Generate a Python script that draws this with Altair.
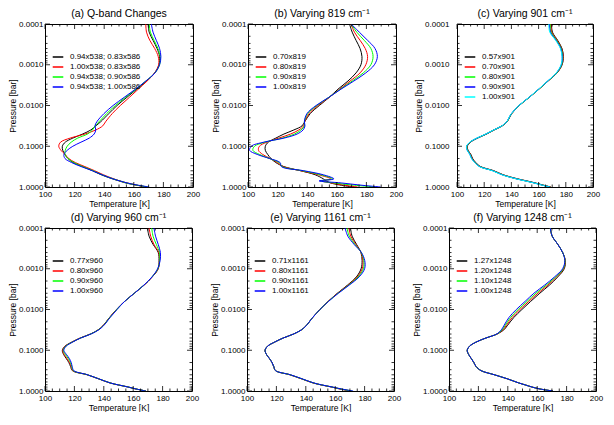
import altair as alt
import pandas as pd

# log10(pressure [bar]) levels at which temperatures were read
LOGP = [-4.0, -3.8, -3.6, -3.4, -3.2, -3.0, -2.8, -2.6, -2.4, -2.2, -2.0,
        -1.8, -1.6, -1.5, -1.4, -1.3, -1.2, -1.1, -1.0,
        -0.9, -0.8, -0.7, -0.6, -0.5, -0.4, -0.3, -0.2,
        -0.15, -0.1, -0.05, 0.0]

# (a) Q-band changes
A_LABELS = ["0.94x538; 0.83x586", "1.00x538; 0.83x586", "0.94x538; 0.90x586", "0.94x538; 1.00x586"]
A_BLACK = [169.7, 170.4, 173.0, 175.7, 177.4, 177.0, 174.1, 168.6, 162.0, 155.3, 148.7, 143.1, 137.6, 134.3, 131.0, 125.4, 118.8, 113.7, 111.7, 112.0, 113.5, 115.5, 119.0, 125.5, 132.0, 138.0, 145.5, 150.0, 154.5, 161.0, 168.6]
A_RED = [168.1, 168.6, 170.8, 174.1, 176.5, 176.8, 174.1, 169.0, 163.0, 157.0, 150.9, 145.4, 140.9, 139.0, 134.3, 127.0, 117.0, 110.5, 109.3, 110.8, 113.5, 116.0, 120.5, 127.0, 133.5, 139.5, 146.5, 150.5, 155.5, 161.5, 168.6]
A_GREEN = [170.4, 171.2, 173.7, 176.3, 177.9, 177.4, 174.3, 168.1, 161.5, 154.4, 147.6, 141.6, 136.5, 133.8, 132.1, 128.8, 122.1, 117.7, 115.0, 113.7, 113.5, 115.5, 119.5, 125.5, 132.5, 138.5, 146.0, 150.5, 155.0, 161.5, 169.7]
A_BLUE = [171.9, 173.0, 175.2, 177.4, 178.3, 177.4, 174.3, 168.1, 161.1, 153.5, 146.0, 139.8, 135.0, 133.8, 134.3, 133.2, 129.9, 124.3, 118.8, 115.0, 112.8, 113.5, 118.0, 124.5, 132.0, 138.5, 146.0, 150.5, 155.5, 162.0, 170.4]

# (b) Varying 819 cm-1
B_LABELS = ["0.70x819", "0.80x819", "0.90x819", "1.00x819"]
B_BLACK = [168.6, 170.4, 173.0, 175.7, 177.0, 176.3, 173.0, 167.5, 160.8, 154.9, 148.2, 142.0, 138.3, 136.5, 131.0, 124.3, 118.8, 113.7, 111.7, 111.7, 113.3, 115.5, 118.8, 124.3, 135.4, 145.4, 150.9, 152.7, 155.8, 161.9, 170.8]
B_RED = [169.7, 171.9, 175.7, 179.2, 180.8, 179.6, 175.7, 169.0, 161.9, 154.9, 147.3, 141.2, 138.3, 137.6, 134.3, 128.8, 120.8, 112.8, 107.7, 107.1, 109.9, 115.0, 119.9, 123.9, 135.4, 147.6, 155.8, 150.0, 156.0, 164.0, 174.1]
B_GREEN = [169.7, 173.5, 178.5, 183.0, 184.5, 183.0, 177.9, 170.4, 162.4, 154.6, 146.5, 140.3, 138.1, 138.1, 135.8, 131.4, 123.2, 111.5, 104.4, 103.3, 107.7, 114.4, 121.0, 123.2, 136.5, 149.1, 157.1, 149.0, 158.0, 170.0, 186.3]
B_BLUE = [169.7, 175.2, 180.8, 185.8, 187.4, 185.4, 179.6, 171.5, 162.8, 154.6, 146.0, 139.8, 138.1, 138.5, 137.2, 133.2, 124.3, 110.6, 102.2, 101.1, 106.2, 114.4, 121.7, 122.6, 137.6, 150.9, 158.0, 148.0, 163.0, 175.0, 189.6]

# (c) Varying 901 cm-1
C_LABELS = ["0.57x901", "0.70x901", "0.80x901", "0.90x901", "1.00x901"]
C_BLACK = [169.5, 170.2, 174.0, 177.2, 178.2, 177.3, 173.6, 167.0, 160.3, 153.2, 145.8, 140.3, 136.8, 133.3, 127.4, 121.8, 115.2, 110.0, 107.6, 108.2, 110.2, 111.5, 113.8, 117.4, 127.0, 134.0, 144.6, 151.2, 157.6, 163.0, 169.0]
C_RED = [169.0, 169.7, 173.6, 176.9, 178.0, 177.1, 173.5, 166.9, 160.2, 153.1, 145.7, 140.2, 136.7, 133.2, 127.2, 121.5, 114.9, 109.7, 107.3, 107.9, 109.9, 111.2, 113.5, 117.1, 126.7, 133.7, 144.2, 150.8, 157.2, 162.6, 168.8]
C_GREEN = [168.5, 169.2, 173.2, 176.6, 177.7, 176.9, 173.3, 166.8, 160.1, 153.1, 145.6, 140.1, 136.6, 133.1, 127.1, 121.4, 114.8, 109.6, 107.2, 107.8, 109.7, 111.0, 113.3, 116.9, 126.4, 133.4, 143.9, 150.5, 156.9, 162.4, 168.6]
C_BLUE = [168.0, 168.7, 172.8, 176.3, 177.4, 176.7, 173.1, 166.7, 160.0, 153.0, 145.5, 140.0, 136.5, 133.0, 127.0, 121.3, 114.7, 109.5, 107.1, 107.6, 109.5, 110.8, 113.1, 116.7, 126.2, 133.2, 143.7, 150.2, 156.7, 162.2, 168.4]
C_CYAN = [167.5, 168.2, 172.5, 176.0, 177.2, 176.5, 173.0, 166.6, 160.0, 153.0, 145.5, 140.0, 136.5, 133.0, 127.0, 121.2, 114.6, 109.4, 107.0, 107.5, 109.4, 110.6, 113.0, 116.5, 126.0, 133.0, 143.5, 150.0, 156.5, 162.0, 168.2]

# (d) Varying 960 cm-1
D_LABELS = ["0.77x960", "0.80x960", "0.90x960", "1.00x960"]
D_BLACK = [169.7, 170.8, 173.5, 177.0, 177.6, 177.0, 173.0, 167.5, 160.8, 154.2, 148.6, 143.8, 139.4, 136.1, 131.0, 123.9, 118.2, 113.6, 111.8, 112.6, 114.4, 116.2, 117.4, 118.6, 128.5, 136.3, 144.0, 149.6, 156.2, 161.8, 168.6]
D_RED = [170.8, 171.9, 174.1, 177.4, 177.8, 177.0, 172.9, 167.4, 160.8, 154.2, 148.7, 143.9, 139.5, 136.2, 131.1, 124.0, 118.4, 113.8, 112.1, 113.0, 114.9, 116.7, 117.8, 118.9, 128.6, 136.4, 144.1, 149.7, 156.3, 161.8, 168.6]
D_GREEN = [172.6, 173.5, 175.7, 177.9, 178.0, 176.8, 172.8, 167.3, 160.8, 154.2, 148.8, 144.0, 139.6, 136.3, 131.2, 124.2, 118.6, 114.1, 112.5, 113.8, 115.8, 117.3, 118.2, 119.2, 128.7, 136.5, 144.2, 149.8, 156.4, 161.9, 168.6]
D_BLUE = [174.1, 175.2, 177.0, 178.5, 178.3, 176.6, 172.8, 167.3, 160.8, 154.2, 149.0, 144.2, 139.8, 136.5, 131.4, 124.3, 118.8, 114.4, 112.8, 114.5, 116.5, 117.8, 118.5, 119.6, 128.8, 136.5, 144.2, 149.8, 156.4, 161.9, 168.6]

# (e) Varying 1161 cm-1
E_LABELS = ["0.71x1161", "0.80x1161", "0.90x1161", "1.00x1161"]
E_BLACK = [170.4, 171.5, 174.5, 177.5, 178.3, 177.6, 174.4, 168.4, 161.5, 155.2, 149.6, 144.6, 140.2, 137.0, 131.8, 124.6, 118.8, 114.0, 112.3, 113.2, 115.2, 117.0, 118.2, 119.4, 129.0, 137.0, 144.8, 150.4, 157.2, 163.0, 170.4]
E_RED = [169.3, 170.6, 174.0, 177.6, 178.9, 178.4, 175.0, 168.8, 161.7, 155.3, 149.6, 144.6, 140.2, 137.0, 131.8, 124.6, 118.8, 114.0, 112.3, 113.2, 115.2, 117.0, 118.2, 119.4, 129.0, 137.0, 144.8, 150.4, 157.4, 163.4, 171.0]
E_GREEN = [168.0, 169.6, 173.4, 177.7, 179.5, 179.2, 175.6, 169.2, 162.0, 155.4, 149.6, 144.6, 140.2, 137.0, 131.8, 124.6, 118.8, 114.0, 112.3, 113.2, 115.2, 117.0, 118.2, 119.4, 129.2, 137.2, 145.0, 150.6, 157.6, 163.8, 171.6]
E_BLUE = [166.7, 168.6, 172.8, 177.8, 180.1, 180.0, 176.3, 169.6, 162.2, 155.5, 149.6, 144.6, 140.2, 137.0, 131.8, 124.6, 118.8, 114.0, 112.3, 113.2, 115.2, 117.0, 118.2, 119.4, 129.4, 137.4, 145.2, 150.8, 157.8, 164.2, 172.2]

# (f) Varying 1248 cm-1
F_LABELS = ["1.27x1248", "1.20x1248", "1.10x1248", "1.00x1248"]
F_BLACK = [168.9, 170.2, 174.0, 177.3, 179.1, 178.4, 174.0, 168.4, 161.8, 155.6, 149.6, 144.0, 139.6, 137.3, 132.9, 125.1, 118.4, 114.0, 112.4, 113.3, 115.1, 116.9, 118.4, 121.8, 130.7, 139.6, 147.3, 151.8, 156.2, 161.8, 170.7]
F_RED = [168.9, 170.2, 174.0, 177.3, 179.0, 178.0, 173.2, 167.3, 160.5, 154.3, 148.3, 142.9, 138.8, 136.7, 132.8, 125.1, 118.4, 114.0, 112.4, 113.3, 115.1, 116.9, 118.4, 121.8, 130.7, 139.6, 147.3, 151.8, 156.2, 161.8, 170.7]
F_GREEN = [168.9, 170.2, 174.0, 177.3, 178.9, 177.7, 172.6, 166.2, 159.2, 153.1, 147.1, 141.8, 138.0, 136.2, 132.7, 125.1, 118.4, 114.0, 112.4, 113.3, 115.1, 116.9, 118.4, 121.8, 130.7, 139.6, 147.3, 151.8, 156.2, 161.8, 170.7]
F_BLUE = [168.9, 170.2, 174.0, 177.3, 178.8, 177.3, 171.8, 165.1, 157.8, 151.8, 145.8, 140.7, 137.3, 135.6, 132.6, 125.1, 118.4, 114.0, 112.4, 113.3, 115.1, 116.9, 118.4, 121.8, 130.7, 139.6, 147.3, 151.8, 156.2, 161.8, 170.7]

COLORS4 = ["#000000", "#ff0000", "#00ff00", "#0000ff"]
COLORS5 = ["#000000", "#ff0000", "#00ff00", "#0000ff", "#00ffff"]

MAJ_X = [100, 120, 140, 160, 180, 200]
MIN_X = [105, 110, 115, 125, 130, 135, 145, 150, 155, 165, 170, 175, 185, 190, 195]
MAJ_Y = [0.0001, 0.001, 0.01, 0.1, 1.0]
MIN_Y = [m * d for d in (0.0001, 0.001, 0.01, 0.1) for m in range(2, 10)]

FONT = "Liberation Sans"
H = 163


def panel(title, labels, colors, series, W, label_pad=2):
    rows = []
    for lab, ser in zip(labels, series):
        for i, (lp, t) in enumerate(zip(LOGP, ser)):
            rows.append({"label": lab, "P": 10 ** lp, "T": t, "i": i})
    df = pd.DataFrame(rows)
    xs = alt.Scale(domain=[100, 200], nice=False, zero=False)
    ys = alt.Scale(type="log", domain=[0.0001, 1.0], reverse=True, nice=False)
    xaxis = alt.Axis(values=MAJ_X, format="d", ticks=False, domain=False, grid=False,
                     labelPadding=3, title="Temperature [K]", titlePadding=1,
                     labelFontSize=8, titleFontSize=8.5, labelFlush=False)
    yaxis = alt.Axis(values=MAJ_Y, format=".4f", ticks=False, domain=False, grid=False,
                     labelPadding=label_pad, title="Pressure [bar]", titlePadding=1,
                     labelFontSize=8, titleFontSize=8.5, labelFlush=False)
    lines = alt.Chart(df).mark_line(strokeWidth=1, interpolate="catmull-rom", clip=True).encode(
        x=alt.X("T:Q", scale=xs, axis=xaxis),
        y=alt.Y("P:Q", scale=ys, axis=yaxis),
        color=alt.Color("label:N", scale=alt.Scale(domain=labels, range=colors),
                        legend=alt.Legend(title=None, orient="none", legendX=9, legendY=29,
                                          symbolType="M-2,0H2", symbolSize=28,
                                          symbolStrokeWidth=1.5, labelFontSize=8,
                                          labelFont=FONT, labelOffset=8, rowPadding=2,
                                          padding=0, labelColor="black")),
        order="i:Q",
    )
    layers = [lines]
    for vals, ln in ((MAJ_X, 5), (MIN_X, 2.5)):
        d = pd.DataFrame({"T": vals})
        base = alt.Chart(d).mark_rule(color="black", strokeWidth=0.8)
        layers.append(base.encode(x=alt.X("T:Q", scale=xs, axis=xaxis), y=alt.value(H), y2=alt.value(H - ln)))
        layers.append(base.encode(x=alt.X("T:Q", scale=xs, axis=xaxis), y=alt.value(0), y2=alt.value(ln)))
    for vals, ln in ((MAJ_Y, 5), (MIN_Y, 2.5)):
        d = pd.DataFrame({"P": vals})
        base = alt.Chart(d).mark_rule(color="black", strokeWidth=0.8)
        layers.append(base.encode(y=alt.Y("P:Q", scale=ys, axis=yaxis), x=alt.value(0), x2=alt.value(ln)))
        layers.append(base.encode(y=alt.Y("P:Q", scale=ys, axis=yaxis), x=alt.value(W), x2=alt.value(W - ln)))
    return alt.layer(*layers).properties(
        width=W, height=H,
        title=alt.TitleParams(title, fontSize=10.5, font=FONT, fontWeight="normal",
                              offset=1, anchor="middle", color="black"),
    )


pa = panel("(a) Q-band Changes", A_LABELS, COLORS4, [A_BLACK, A_RED, A_GREEN, A_BLUE], 148)
pb = panel("(b) Varying 819 cm\u207b\u00b9", B_LABELS, COLORS4, [B_BLACK, B_RED, B_GREEN, B_BLUE], 148)
pc = panel("(c) Varying 901 cm\u207b\u00b9", C_LABELS, COLORS5, [C_BLACK, C_RED, C_GREEN, C_BLUE, C_CYAN], 136, label_pad=8)
pd_ = panel("(d) Varying 960 cm\u207b\u00b9", D_LABELS, COLORS4, [D_BLACK, D_RED, D_GREEN, D_BLUE], 147)
pe = panel("(e) Varying 1161 cm\u207b\u00b9", E_LABELS, COLORS4, [E_BLACK, E_RED, E_GREEN, E_BLUE], 147)
pf = panel("(f) Varying 1248 cm\u207b\u00b9", F_LABELS, COLORS4, [F_BLACK, F_RED, F_GREEN, F_BLUE], 147)

row1 = alt.hconcat(pa, pb, pc, spacing=10).resolve_scale(color="independent")
row2 = alt.hconcat(pd_, pe, pf, spacing=10).resolve_scale(color="independent")

chart = alt.vconcat(row1, row2, spacing=4).resolve_scale(color="independent").properties(
    padding=0, background="white"
).configure_view(stroke="black", strokeWidth=1).configure_axis(
    labelColor="black", titleColor="black", labelFont=FONT, titleFont=FONT,
    titleFontWeight="normal"
)

chart.save("out.html", embed_options={"renderer": "svg", "actions": False})
